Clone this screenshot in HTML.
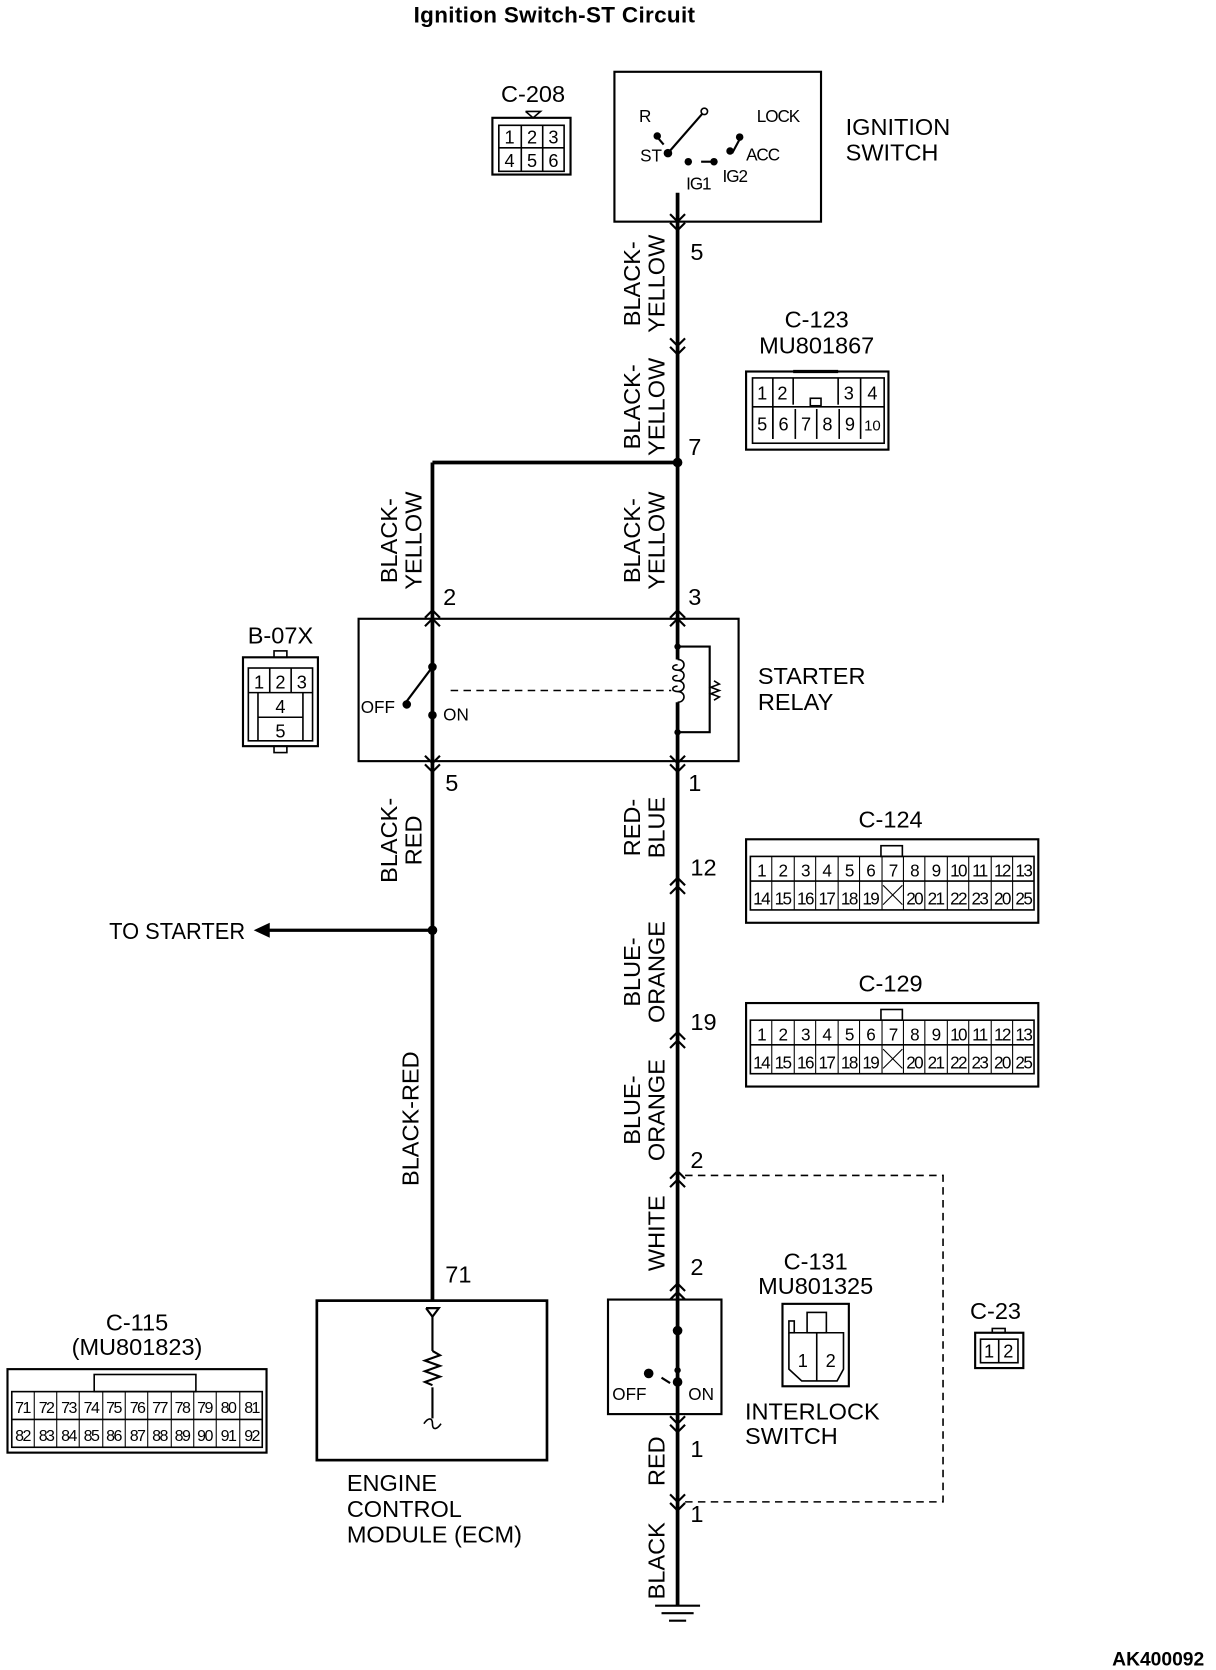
<!DOCTYPE html>
<html><head><meta charset="utf-8"><style>
html,body{margin:0;padding:0;background:#fff}
svg{display:block}
text{font-family:"Liberation Sans",Arial,sans-serif;fill:#000}
</style></head><body>
<svg width="1216" height="1670" viewBox="0 0 1136 1560" xmlns="http://www.w3.org/2000/svg">
<g stroke="#000" fill="none">
<line x1="633" y1="180" x2="633" y2="1500" stroke-width="3.5"/>
<line x1="404" y1="432" x2="633" y2="432" stroke-width="3.5"/>
<line x1="404" y1="432" x2="404" y2="1215" stroke-width="3.5"/>
<line x1="404" y1="869" x2="250" y2="869" stroke-width="3"/>
<polyline points="640,1098 881,1098 881,1403 640,1403" stroke-width="1.5" stroke-dasharray="7,5"/>
<rect x="574" y="67" width="193" height="140" stroke-width="2"/>
<rect x="335" y="578" width="355" height="133" stroke-width="2"/>
<rect x="296" y="1215" width="215" height="149" stroke-width="2.5"/>
<rect x="568" y="1214" width="106" height="107" stroke-width="2"/>
<g stroke-width="2">
<polyline points="626,200 633,207 640,200"/><polyline points="626,208 633,215 640,208"/>
<polyline points="626,316 633,323 640,316"/><polyline points="626,324 633,331 640,324"/>
<polyline points="397,577 404,570 411,577"/><polyline points="397,585 404,578 411,585"/>
<polyline points="626,577 633,570 640,577"/><polyline points="626,585 633,578 640,585"/>
<polyline points="397,706 404,713 411,706"/><polyline points="397,714 404,721 411,714"/>
<polyline points="626,706 633,713 640,706"/><polyline points="626,714 633,721 640,714"/>
<polyline points="626,827 633,820 640,827"/><polyline points="626,835 633,828 640,835"/>
<polyline points="626,971 633,964 640,971"/><polyline points="626,979 633,972 640,979"/>
<polyline points="626,1101 633,1094 640,1101"/><polyline points="626,1109 633,1102 640,1109"/>
<polyline points="626,1206 633,1199 640,1206"/><polyline points="626,1214 633,1207 640,1214"/>
<polyline points="626,1323 633,1330 640,1323"/><polyline points="626,1331 633,1338 640,1331"/>
<polyline points="626,1396 633,1403 640,1396"/><polyline points="626,1404 633,1411 640,1404"/>
</g>
<line x1="612" y1="1500" x2="654" y2="1500" stroke-width="2"/>
<line x1="618" y1="1507" x2="648" y2="1507" stroke-width="2"/>
<line x1="625" y1="1514" x2="641" y2="1514" stroke-width="2"/>
<g stroke-width="2">
<line x1="624" y1="143" x2="658" y2="104"/>
<line x1="614" y1="128" x2="620" y2="135"/>
<line x1="691" y1="130" x2="684" y2="143"/>
<line x1="655" y1="151" x2="665" y2="151"/>
</g>
<g stroke-width="2">
<line x1="404" y1="585" x2="404" y2="623"/>
<line x1="404" y1="623" x2="380" y2="655"/>
<line x1="404" y1="668" x2="404" y2="706"/>
<line x1="421" y1="645" x2="627" y2="645" stroke-dasharray="7,5" stroke-width="1.5"/>
<line x1="633" y1="616" x2="633" y2="656" stroke="#fff" stroke-width="6"/>
<polyline points="633,604 663,604 663,684 633,684"/>
<path d="M667,636 l5,3 -8,3 8,3 -8,3 8,3 -5,3" stroke-width="1.5"/>
<path d="M633,616 c8,0 8,10 0,10 c-6,0 -6,-5 0,-5 M633,626 c8,0 8,10 0,10 c-6,0 -6,-5 0,-5 M633,636 c8,0 8,10 0,10 c-6,0 -6,-5 0,-5 M633,646 c8,0 8,10 0,10" stroke-width="1.5"/>
</g>
<g stroke-width="2">
<polyline points="398,1222 410,1222 404,1230 398,1222"/>
<line x1="404" y1="1230" x2="404" y2="1262"/>
<path d="M404,1262 l7,4 -14,5 14,5 -14,5 14,5 -14,5 7,3"/>
<line x1="404" y1="1296" x2="404" y2="1325"/>
<path d="M396,1330 c4,-6 8,-6 8,0 c0,6 4,6 8,0" stroke-width="1.5"/>
</g>
<g stroke-width="2">
<line x1="618" y1="1287" x2="626" y2="1292"/>
</g>
<polygon points="237,869 252,862 252,876" fill="#000" stroke="none"/>
</g>
<g fill="#000">
<circle cx="633" cy="432" r="4.5"/><circle cx="404" cy="869" r="4.5"/>
<circle cx="624" cy="143" r="4"/><circle cx="614" cy="127" r="3.5"/><circle cx="658" cy="104" r="3" fill="#fff" stroke="#000" stroke-width="1.5"/>
<circle cx="643" cy="151" r="3.5"/><circle cx="667" cy="151" r="3.5"/><circle cx="682" cy="141" r="3.5"/><circle cx="691" cy="128" r="3.5"/>
<circle cx="404" cy="623" r="4"/><circle cx="380" cy="658" r="4"/><circle cx="404" cy="668" r="4"/>
<circle cx="633" cy="604" r="3"/><circle cx="633" cy="684" r="3"/>
<circle cx="633" cy="1243" r="4.5"/><circle cx="606" cy="1283" r="4.5"/><circle cx="633" cy="1280" r="3"/><circle cx="633" cy="1291" r="4.5"/>
</g>
<g stroke="#000" fill="none" stroke-width="1.5">
<rect x="460" y="110" width="73" height="53" stroke-width="2"/>
<rect x="466" y="117" width="61" height="43"/>
<line x1="466" y1="138" x2="527" y2="138"/><line x1="487" y1="117" x2="487" y2="160"/><line x1="507" y1="117" x2="507" y2="160"/>
<polyline points="491,104 505,104 498,110 491,104"/>
<rect x="697" y="347" width="133" height="73" stroke-width="2"/>
<rect x="703" y="353" width="123" height="61"/>
<line x1="703" y1="380" x2="826" y2="380"/>
<line x1="722" y1="353" x2="722" y2="410"/><line x1="741" y1="353" x2="741" y2="378"/><line x1="783" y1="353" x2="783" y2="378"/><line x1="804" y1="353" x2="804" y2="410"/>
<line x1="722" y1="382" x2="722" y2="410"/><line x1="743" y1="382" x2="743" y2="410"/><line x1="763" y1="382" x2="763" y2="410"/><line x1="784" y1="382" x2="784" y2="410"/>
<line x1="741" y1="347" x2="783" y2="347" stroke-width="3"/>
<rect x="757" y="372" width="10" height="7"/>
<rect x="227" y="614" width="70" height="83" stroke-width="2"/>
<rect x="232" y="624" width="60" height="68"/>
<line x1="232" y1="647" x2="292" y2="647"/><line x1="241" y1="670" x2="283" y2="670"/>
<line x1="241" y1="647" x2="241" y2="692"/><line x1="283" y1="647" x2="283" y2="692"/>
<line x1="252" y1="624" x2="252" y2="647"/><line x1="272" y1="624" x2="272" y2="647"/>
<rect x="256" y="608" width="12" height="6"/><rect x="256" y="697" width="12" height="6"/>
<rect x="697" y="784" width="273" height="78" stroke-width="2"/>
<rect x="701" y="800" width="265" height="50"/>
<line x1="701" y1="823" x2="966" y2="823"/>
<rect x="823" y="790" width="20" height="10"/>
<rect x="697" y="937" width="273" height="78" stroke-width="2"/>
<rect x="701" y="953" width="265" height="50"/>
<line x1="701" y1="976" x2="966" y2="976"/>
<rect x="823" y="943" width="20" height="10"/>
<rect x="7" y="1279" width="242" height="78" stroke-width="2"/>
<rect x="11" y="1300" width="234" height="52"/>
<line x1="11" y1="1326" x2="245" y2="1326"/>
<rect x="88" y="1284" width="95" height="16"/>
<rect x="731" y="1218" width="62" height="77" stroke-width="2"/>
<polyline points="737,1245 737,1279 749,1290 782,1290 788,1279 788,1245 737,1245"/>
<line x1="763" y1="1245" x2="763" y2="1290"/>
<rect x="754" y="1226" width="18" height="19"/>
<rect x="737" y="1234" width="5" height="11"/>
<rect x="911" y="1245" width="45" height="33" stroke-width="2"/>
<rect x="916" y="1251" width="35" height="22"/>
<line x1="933" y1="1251" x2="933" y2="1273"/>
<rect x="927" y="1241" width="12" height="4"/>
</g>
<g stroke="#000" stroke-width="1">
<path d="M721,800v50M742,800v50M762,800v50M783,800v50M803,800v50M824,800v50M844,800v50M864,800v50M885,800v50M905,800v50M926,800v50M946,800v50"/>
<path d="M721,953v50M742,953v50M762,953v50M783,953v50M803,953v50M824,953v50M844,953v50M864,953v50M885,953v50M905,953v50M926,953v50M946,953v50"/>
<path d="M825,827l18,18M843,827l-18,18M825,980l18,18M843,980l-18,18"/>
<path d="M32,1300v52M53,1300v52M74,1300v52M96,1300v52M117,1300v52M138,1300v52M160,1300v52M181,1300v52M202,1300v52M224,1300v52"/>
</g>
<text x="518" y="21" font-size="21" font-weight="bold" text-anchor="middle" letter-spacing="0.3">Ignition Switch-ST Circuit</text>
<text x="1125" y="1556" font-size="18" font-weight="bold" text-anchor="end">AK400092</text>
<g font-size="22">
<text x="498" y="95" text-anchor="middle">C-208</text>
<text x="790" y="126">IGNITION</text><text x="790" y="150">SWITCH</text>
<text x="763" y="306" text-anchor="middle">C-123</text><text x="763" y="330" text-anchor="middle">MU801867</text>
<text x="262" y="601" text-anchor="middle">B-07X</text>
<text x="708" y="639">STARTER</text><text x="708" y="663">RELAY</text>
<text x="832" y="773" text-anchor="middle">C-124</text>
<text x="832" y="926" text-anchor="middle">C-129</text>
<text x="102" y="877" textLength="127" lengthAdjust="spacingAndGlyphs">TO STARTER</text>
<text x="128" y="1243" text-anchor="middle">C-115</text><text x="128" y="1266" text-anchor="middle">(MU801823)</text>
<text x="324" y="1393">ENGINE</text><text x="324" y="1417">CONTROL</text><text x="324" y="1441">MODULE (ECM)</text>
<text x="762" y="1186" text-anchor="middle">C-131</text><text x="762" y="1209" text-anchor="middle">MU801325</text>
<text x="696" y="1326">INTERLOCK</text><text x="696" y="1349">SWITCH</text>
<text x="930" y="1232" text-anchor="middle">C-23</text>
<text x="645" y="243">5</text><text x="643" y="425">7</text>
<text x="414" y="565">2</text><text x="643" y="565">3</text>
<text x="416" y="739">5</text><text x="643" y="739">1</text>
<text x="645" y="818">12</text><text x="645" y="962">19</text>
<text x="645" y="1091">2</text><text x="645" y="1191">2</text>
<text x="416" y="1198">71</text>
<text x="645" y="1361">1</text><text x="645" y="1422">1</text>
</g>
<g font-size="16">
<text x="597" y="114">R</text><text x="707" y="114" letter-spacing="-1">LOCK</text>
<text x="598" y="151">ST</text><text x="697" y="150" letter-spacing="-1">ACC</text>
<text x="641" y="177" letter-spacing="-1">IG1</text><text x="675" y="170" letter-spacing="-1">IG2</text>
<text x="337" y="666">OFF</text><text x="414" y="673">ON</text>
<text x="572" y="1308">OFF</text><text x="643" y="1308">ON</text>
</g>
<g font-size="17" text-anchor="middle">
<text x="476" y="134">1</text><text x="497" y="134">2</text><text x="517" y="134">3</text>
<text x="476" y="156">4</text><text x="497" y="156">5</text><text x="517" y="156">6</text>
<text x="712" y="373">1</text><text x="731" y="373">2</text><text x="793" y="373">3</text><text x="815" y="373">4</text>
<text x="712" y="402">5</text><text x="732" y="402">6</text><text x="753" y="402">7</text><text x="773" y="402">8</text><text x="794" y="402">9</text><text x="815" y="402" font-size="14">10</text>
<text x="242" y="643">1</text><text x="262" y="643">2</text><text x="282" y="643">3</text>
<text x="262" y="666">4</text><text x="262" y="689">5</text>
<text x="750" y="1277">1</text><text x="776" y="1277">2</text>
<text x="924" y="1268">1</text><text x="942" y="1268">2</text>
</g>
<g font-size="16" text-anchor="middle" letter-spacing="-1.5">
<text x="711" y="819">1</text><text x="731" y="819">2</text><text x="752" y="819">3</text><text x="772" y="819">4</text><text x="793" y="819">5</text><text x="813" y="819">6</text><text x="834" y="819">7</text><text x="854" y="819">8</text><text x="874" y="819">9</text><text x="895" y="819">10</text><text x="915" y="819">11</text><text x="936" y="819">12</text><text x="956" y="819">13</text>
<text x="711" y="845">14</text><text x="731" y="845">15</text><text x="752" y="845">16</text><text x="772" y="845">17</text><text x="793" y="845">18</text><text x="813" y="845">19</text><text x="854" y="845">20</text><text x="874" y="845">21</text><text x="895" y="845">22</text><text x="915" y="845">23</text><text x="936" y="845">20</text><text x="956" y="845">25</text>
<text x="711" y="972">1</text><text x="731" y="972">2</text><text x="752" y="972">3</text><text x="772" y="972">4</text><text x="793" y="972">5</text><text x="813" y="972">6</text><text x="834" y="972">7</text><text x="854" y="972">8</text><text x="874" y="972">9</text><text x="895" y="972">10</text><text x="915" y="972">11</text><text x="936" y="972">12</text><text x="956" y="972">13</text>
<text x="711" y="998">14</text><text x="731" y="998">15</text><text x="752" y="998">16</text><text x="772" y="998">17</text><text x="793" y="998">18</text><text x="813" y="998">19</text><text x="854" y="998">20</text><text x="874" y="998">21</text><text x="895" y="998">22</text><text x="915" y="998">23</text><text x="936" y="998">20</text><text x="956" y="998">25</text>
</g>
<g font-size="15" text-anchor="middle" letter-spacing="-1.5">
<text x="21" y="1320">71</text><text x="43" y="1320">72</text><text x="64" y="1320">73</text><text x="85" y="1320">74</text><text x="106" y="1320">75</text><text x="128" y="1320">76</text><text x="149" y="1320">77</text><text x="170" y="1320">78</text><text x="191" y="1320">79</text><text x="213" y="1320">80</text><text x="235" y="1320">81</text>
<text x="21" y="1346">82</text><text x="43" y="1346">83</text><text x="64" y="1346">84</text><text x="85" y="1346">85</text><text x="106" y="1346">86</text><text x="128" y="1346">87</text><text x="149" y="1346">88</text><text x="170" y="1346">89</text><text x="191" y="1346">90</text><text x="213" y="1346">91</text><text x="235" y="1346">92</text>
</g>
<g font-size="22" text-anchor="middle">
<g transform="translate(598,265) rotate(-90)"><text x="0" y="0">BLACK-</text><text x="0" y="23">YELLOW</text></g>
<g transform="translate(598,380) rotate(-90)"><text x="0" y="0">BLACK-</text><text x="0" y="23">YELLOW</text></g>
<g transform="translate(371,505) rotate(-90)"><text x="0" y="0">BLACK-</text><text x="0" y="23">YELLOW</text></g>
<g transform="translate(598,505) rotate(-90)"><text x="0" y="0">BLACK-</text><text x="0" y="23">YELLOW</text></g>
<g transform="translate(371,785) rotate(-90)"><text x="0" y="0">BLACK-</text><text x="0" y="23">RED</text></g>
<g transform="translate(598,773) rotate(-90)"><text x="0" y="0">RED-</text><text x="0" y="23">BLUE</text></g>
<g transform="translate(598,908) rotate(-90)"><text x="0" y="0">BLUE-</text><text x="0" y="23">ORANGE</text></g>
<g transform="translate(598,1037) rotate(-90)"><text x="0" y="0">BLUE-</text><text x="0" y="23">ORANGE</text></g>
<g transform="translate(391,1045) rotate(-90)"><text x="0" y="0">BLACK-RED</text></g>
<g transform="translate(621,1152) rotate(-90)"><text x="0" y="0">WHITE</text></g>
<g transform="translate(621,1365) rotate(-90)"><text x="0" y="0">RED</text></g>
<g transform="translate(621,1458) rotate(-90)"><text x="0" y="0">BLACK</text></g>
</g>
</svg>
</body></html>
